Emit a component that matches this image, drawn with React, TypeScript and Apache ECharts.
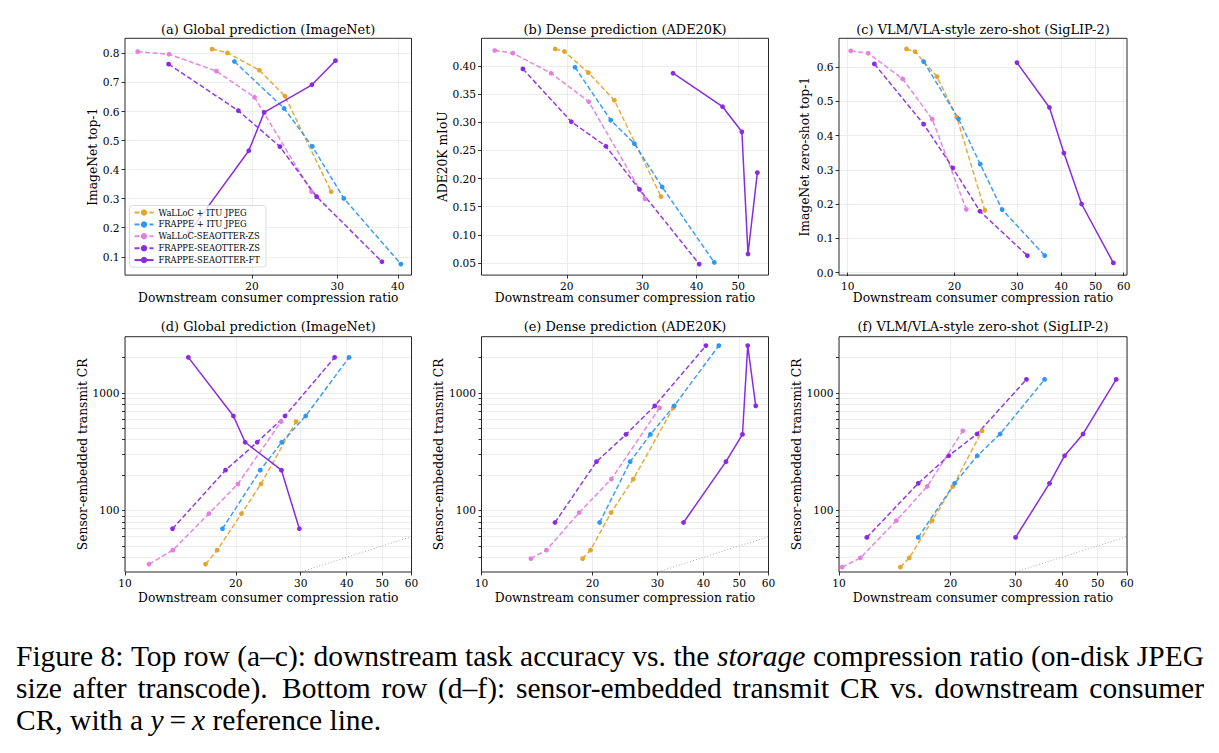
import React, { useEffect, useRef } from "react";
import * as echarts from "echarts";

// ---------------- data ----------------
const SERIES_NAMES = [
  "WaLLoC + ITU JPEG",
  "FRAPPE + ITU JPEG",
  "WaLLoC-SEAOTTER-ZS",
  "FRAPPE-SEAOTTER-ZS",
  "FRAPPE-SEAOTTER-FT",
];

// ImageNet (a, d)
const inWallocItuX = [16.55, 17.8, 20.72, 23.4, 29.15];
const inWallocItuAcc = [0.815, 0.802, 0.742, 0.653, 0.324];
const inFrappeItuX = [18.4, 23.3, 26.65, 30.95, 40.6];
const inFrappeItuAcc = [0.772, 0.611, 0.48, 0.301, 0.075];
const inWallocZsX = [11.62, 13.49, 16.9, 20.25, 26.55];
const inWallocZsAcc = [0.806, 0.797, 0.739, 0.649, 0.324];
const inFrappeZsX = [13.46, 18.75, 22.85, 27.2, 37.1];
const inFrappeZsAcc = [0.763, 0.603, 0.479, 0.307, 0.083];
const inFrappeFtX = [14.86, 19.7, 21.2, 26.6, 29.75];
const inFrappeFtAcc = [0.185, 0.465, 0.597, 0.692, 0.775];
const inWallocSensor = [35, 46, 94, 168, 570];
const inFrappeSensor = [70, 220, 380, 635, 2000];
const inFrappeFtSensor = [2000, 635, 380, 220, 70];

// ADE20K (b, e)
const adeWallocItuX = [18.8, 19.75, 22.45, 25.8, 33.1];
const adeWallocItuMiou = [0.43, 0.4256, 0.388, 0.339, 0.168];
const adeFrappeItuX = [20.9, 25.3, 28.7, 33.3, 44.0];
const adeFrappeItuMiou = [0.3976, 0.3037, 0.262, 0.185, 0.0512];
const adeWallocZsX = [13.61, 15.0, 18.4, 22.5, 30.4];
const adeWallocZsMiou = [0.4273, 0.4226, 0.387, 0.3364, 0.164];
const adeFrappeZsX = [15.82, 20.5, 24.65, 29.5, 40.6];
const adeFrappeZsMiou = [0.3947, 0.3008, 0.2574, 0.1807, 0.0482];
const adeFrappeFtX = [35.3, 46.0, 51.0, 52.7, 55.4];
const adeFrappeFtMiou = [0.387, 0.3275, 0.283, 0.066, 0.2105];
const adeWallocSensor = [39, 46, 96, 185, 745];
const adeFrappeSensor = [79, 260, 443, 775, 2520];
const adeFrappeFtSensor = [79, 260, 443, 2520, 775];

// SigLIP-2 (c, f)
const sigWallocItuX = [14.65, 15.48, 17.85, 20.3, 24.35];
const sigWallocItuAcc = [0.6535, 0.6457, 0.5728, 0.4541, 0.1819];
const sigFrappeItuX = [16.37, 20.53, 23.64, 27.25, 35.93];
const sigFrappeItuAcc = [0.6166, 0.4493, 0.317, 0.1838, 0.0496];
const sigWallocZsX = [10.2, 11.42, 14.29, 17.31, 21.6];
const sigWallocZsAcc = [0.6477, 0.6409, 0.566, 0.4483, 0.1845];
const sigFrappeZsX = [11.89, 16.37, 19.8, 23.6, 32.1];
const sigFrappeZsAcc = [0.6097, 0.4337, 0.3054, 0.179, 0.0496];
const sigFrappeFtX = [30.0, 37.05, 40.7, 45.65, 56.1];
const sigFrappeFtAcc = [0.6136, 0.4823, 0.3491, 0.2003, 0.0282];
const sigWallocSensor = [33, 39.5, 82, 160, 475];
const sigFrappeSensor = [59, 170, 292, 447, 1300];
const sigFrappeFtSensor = [59, 170, 292, 447, 1300];

// axes
const PANEL_TITLES = [
  "(a) Global prediction (ImageNet)",
  "(b) Dense prediction (ADE20K)",
  "(c) VLM/VLA-style zero-shot (SigLIP-2)",
  "(d) Global prediction (ImageNet)",
  "(e) Dense prediction (ADE20K)",
  "(f) VLM/VLA-style zero-shot (SigLIP-2)",
];
const TOP_Y_NAMES = ["ImageNet top-1", "ADE20K mIoU", "ImageNet zero-shot top-1"];
const BOTTOM_Y_NAME = "Sensor-embedded transmit CR";
const X_NAME = "Downstream consumer compression ratio";
const TOP_X_RANGE = [[10.94, 42.7], [12.68, 58.8], [9.45, 61.3]];
const TOP_Y_RANGE = [[0.037, 0.852], [0.0286, 0.449], [-0.0075, 0.6846]];
const TOP_X_TICKS = [[20, 30, 40], [20, 30, 40, 50], [10, 20, 30, 40, 50, 60]];
const TOP_Y_TICKS = [
  [0.1, 0.2, 0.3, 0.4, 0.5, 0.6, 0.7, 0.8],
  [0.05, 0.1, 0.15, 0.2, 0.25, 0.3, 0.35, 0.4],
  [0.0, 0.1, 0.2, 0.3, 0.4, 0.5, 0.6],
];
const TOP_Y_DECIMALS = [1, 2, 1];
const BOTTOM_X_RANGE = [10, 60];
const BOTTOM_Y_RANGE = [30, 3000];
const BOTTOM_X_TICKS = [10, 20, 30, 40, 50, 60];
const BOTTOM_Y_TICKS = [40, 50, 60, 70, 80, 90, 100, 200, 300, 400, 500, 600, 700, 800, 900, 1000, 2000];
const BOTTOM_Y_LABELS = [100, 1000];
const REF_LINE = [10, 60];

const CAPTION_LINES = [
  "Figure 8: Top row (a–c): downstream task accuracy vs. the _storage_ compression ratio (on-disk JPEG",
  "size after transcode).  Bottom row (d–f): sensor-embedded transmit CR vs. downstream consumer",
];

// ---------------- styling ----------------
const COLORS = ["#E2A52E", "#2F96F7", "#E27FE0", "#8A2BE2", "#8A2BE2"];
const DASHED = [true, true, true, true, false];
const FONT = '"DejaVu Serif", serif';
const CAP_FONT = '"Liberation Serif", "Times New Roman", serif';
const COL_LEFT = [125, 481.5, 839];
const COL_WIDTH = [286.5, 287, 288];
const ROW_TOP = [38.3, 336.7];
const ROW_HEIGHT = [236.8, 235.3];

const L = Math.log10;

function buildOption() {
  const tasks = [
    {
      xs: [inWallocItuX, inFrappeItuX, inWallocZsX, inFrappeZsX, inFrappeFtX],
      ys: [inWallocItuAcc, inFrappeItuAcc, inWallocZsAcc, inFrappeZsAcc, inFrappeFtAcc],
      ss: [inWallocSensor, inFrappeSensor, inWallocSensor, inFrappeSensor, inFrappeFtSensor],
    },
    {
      xs: [adeWallocItuX, adeFrappeItuX, adeWallocZsX, adeFrappeZsX, adeFrappeFtX],
      ys: [adeWallocItuMiou, adeFrappeItuMiou, adeWallocZsMiou, adeFrappeZsMiou, adeFrappeFtMiou],
      ss: [adeWallocSensor, adeFrappeSensor, adeWallocSensor, adeFrappeSensor, adeFrappeFtSensor],
    },
    {
      xs: [sigWallocItuX, sigFrappeItuX, sigWallocZsX, sigFrappeZsX, sigFrappeFtX],
      ys: [sigWallocItuAcc, sigFrappeItuAcc, sigWallocZsAcc, sigFrappeZsAcc, sigFrappeFtAcc],
      ss: [sigWallocSensor, sigFrappeSensor, sigWallocSensor, sigFrappeSensor, sigFrappeFtSensor],
    },
  ];

  const grids: any[] = [];
  const xAxes: any[] = [];
  const yAxes: any[] = [];
  const series: any[] = [];
  const graphics: any[] = [];

  const tickStyle = { show: true, length: 3.5, lineStyle: { color: "#000", width: 0.8 } };
  const splitStyle = { show: true, lineStyle: { color: "#e8e8e8", width: 0.8 } };
  const labelBase = { fontFamily: FONT, fontSize: 10.6, color: "#000" };
  const nameStyle = { fontFamily: FONT, fontSize: 12.3, color: "#000" };
  const topYGap = [26, 33, 28];

  for (let p = 0; p < 6; p++) {
    const row = p < 3 ? 0 : 1;
    const col = p % 3;
    const left = COL_LEFT[col];
    const top = ROW_TOP[row];
    const width = COL_WIDTH[col];
    const height = ROW_HEIGHT[row];
    grids.push({ left, top, width, height, show: false, containLabel: false, outerBoundsMode: "none" });

    const xr = row === 0 ? TOP_X_RANGE[col] : BOTTOM_X_RANGE;
    const xt = row === 0 ? TOP_X_TICKS[col] : BOTTOM_X_TICKS;
    xAxes.push({
      gridIndex: p,
      type: "value",
      min: L(xr[0]),
      max: L(xr[1]),
      axisLine: { show: false },
      axisTick: { ...tickStyle, customValues: xt.map(L) },
      axisLabel: {
        ...labelBase,
        margin: 5,
        customValues: xt.map(L),
        formatter: (v: number) => String(Math.round(Math.pow(10, v))),
      },
      splitLine: splitStyle,
      name: X_NAME,
      nameLocation: "middle",
      nameGap: row === 0 ? 17 : 20,
      nameTextStyle: nameStyle,
    });

    if (row === 0) {
      const yr = TOP_Y_RANGE[col];
      const dec = TOP_Y_DECIMALS[col];
      yAxes.push({
        gridIndex: p,
        type: "value",
        min: yr[0],
        max: yr[1],
        axisLine: { show: false },
        axisTick: { ...tickStyle, customValues: TOP_Y_TICKS[col] },
        axisLabel: {
          ...labelBase,
          margin: 5.5,
          customValues: TOP_Y_TICKS[col],
          formatter: (v: number) => v.toFixed(dec),
        },
        splitLine: splitStyle,
        name: TOP_Y_NAMES[col],
        nameLocation: "middle",
        nameGap: topYGap[col],
        nameTextStyle: nameStyle,
      });
    } else {
      yAxes.push({
        gridIndex: p,
        type: "value",
        min: L(BOTTOM_Y_RANGE[0]),
        max: L(BOTTOM_Y_RANGE[1]),
        axisLine: { show: false },
        axisTick: { ...tickStyle, length: 3, customValues: BOTTOM_Y_TICKS.map(L) },
        axisLabel: {
          ...labelBase,
          margin: 5.5,
          customValues: BOTTOM_Y_LABELS.map(L),
          formatter: (v: number) => String(Math.round(Math.pow(10, v))),
        },
        splitLine: splitStyle,
        name: BOTTOM_Y_NAME,
        nameLocation: "middle",
        nameGap: 36,
        nameTextStyle: nameStyle,
      });
    }

    const task = tasks[col];
    for (let s = 0; s < 5; s++) {
      const xs = task.xs[s];
      const vals = row === 0 ? task.ys[s] : task.ss[s].map(L);
      series.push({
        type: "line",
        name: SERIES_NAMES[s],
        xAxisIndex: p,
        yAxisIndex: p,
        data: xs.map((x, i) => [L(x), vals[i]]),
        symbol: "circle",
        symbolSize: 4.8,
        showSymbol: true,
        lineStyle: { color: COLORS[s], width: 1.5, type: DASHED[s] ? [5, 2.5] : "solid", opacity: DASHED[s] ? 0.92 : 1 },
        itemStyle: { color: COLORS[s] },
        emphasis: { disabled: true },
        silent: true,
      });
    }
    if (row === 1) {
      series.push({
        type: "line",
        name: "y=x",
        xAxisIndex: p,
        yAxisIndex: p,
        data: REF_LINE.map((v) => [L(v), L(v)]),
        symbol: "none",
        clip: true,
        lineStyle: { color: "#9a9a9a", width: 0.8, type: [1, 2] },
        emphasis: { disabled: true },
        silent: true,
        z: 1,
      });
    }

    // frame
    graphics.push({
      type: "rect",
      silent: true,
      z: 50,
      shape: { x: left, y: top, width, height },
      style: { fill: "none", stroke: "#111", lineWidth: 0.9 },
    });
    // title
    graphics.push({
      type: "text",
      silent: true,
      x: left + width / 2,
      y: top - (row === 0 ? 9 : 10),
      style: {
        text: PANEL_TITLES[p],
        fontFamily: FONT,
        fontSize: 12.9,
        fill: "#000",
        align: "center",
        verticalAlign: "middle",
      },
    });
  }

  graphics.push(...captionElements());

  return {
    animation: false,
    backgroundColor: "#fff",
    grid: grids,
    xAxis: xAxes,
    yAxis: yAxes,
    series,
    legend: {
      data: SERIES_NAMES,
      orient: "vertical",
      left: 129.5,
      top: 205.5,
      itemWidth: 19,
      itemHeight: 8,
      itemGap: 3.9,
      padding: [3, 6, 3, 4],
      backgroundColor: "rgba(255,255,255,0.82)",
      borderColor: "#d3d3d3",
      borderWidth: 0.8,
      borderRadius: 3,
      selectedMode: false,
      textStyle: { fontFamily: FONT, fontSize: 8.4, color: "#000" },
      z: 10,
    },
    graphic: { elements: graphics },
  };
}

function captionElements() {
  const size = 29.5;
  const canvas = document.createElement("canvas");
  const ctx = canvas.getContext("2d") as CanvasRenderingContext2D;
  const measure = (t: string, italic: boolean) => {
    ctx.font = `${italic ? "italic " : ""}${size}px ${CAP_FONT}`;
    return ctx.measureText(t).width;
  };
  const x0 = 16;
  const x1 = 1204;
  const baselines = [666, 698.5, 730.5];
  const els: any[] = [];
  CAPTION_LINES.forEach((line, li) => {
    const parts = line.split(" ");
    const words: { t: string; it: boolean; w: number; gapW: number }[] = [];
    let extra = 0;
    parts.forEach((p) => {
      if (p === "") {
        extra = 0.35;
        return;
      }
      const it = p.startsWith("_") && p.endsWith("_");
      const t = it ? p.slice(1, -1) : p;
      words.push({ t, it, w: measure(t, it), gapW: 1 + extra });
      extra = 0;
    });
    const total = words.reduce((a, w) => a + w.w, 0);
    const weights = words.slice(1).reduce((a, w) => a + w.gapW, 0);
    const unit = (x1 - x0 - total) / weights;
    let x = x0;
    words.forEach((w, i) => {
      if (i > 0) x += unit * w.gapW;
      els.push({
        type: "text",
        silent: true,
        x,
        y: baselines[li] - 0.34 * size,
        style: {
          text: w.t,
          fontFamily: CAP_FONT,
          fontSize: size,
          fontStyle: w.it ? "italic" : "normal",
          fill: "#000",
          align: "left",
          verticalAlign: "middle",
        },
      });
      x += w.w;
    });
  });
  els.push({
    type: "text",
    silent: true,
    x: x0,
    y: baselines[2] - 0.34 * size,
    style: {
      text: "{n|CR, with a }{i|y}{n|\u2009=\u2009}{i|x}{n| reference line.}",
      fontFamily: CAP_FONT,
      fontSize: size,
      fill: "#000",
      align: "left",
      verticalAlign: "middle",
      rich: {
        n: { fontFamily: CAP_FONT, fontSize: size, fill: "#000" },
        i: { fontFamily: CAP_FONT, fontSize: size, fontStyle: "italic", fill: "#000" },
      },
    },
  });
  return els;
}

export default function App() {
  const ref = useRef<HTMLDivElement>(null);
  useEffect(() => {
    if (!ref.current) return;
    const chart = echarts.init(ref.current, undefined, { renderer: "svg" });
    chart.setOption(buildOption() as any);
    return () => chart.dispose();
  }, []);
  return (
    <div
      ref={ref}
      style={{ position: "fixed", left: 0, top: 0, width: 1219, height: 753, background: "#fff" }}
    />
  );
}
